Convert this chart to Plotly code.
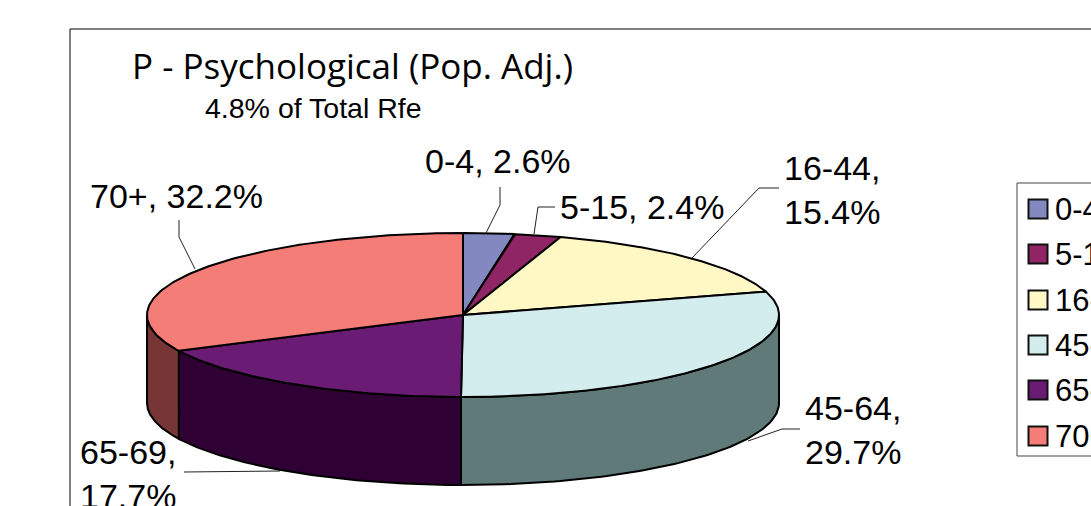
import numpy as np
import plotly.graph_objects as go

categories = ["0-4", "5-15", "16-44", "45-64", "65-69", "70+"]
values = [2.6, 2.4, 15.4, 29.7, 17.7, 32.2]
top_colors = ["#8488C0", "#902565", "#FFF8C4", "#D3ECED", "#6A1B73", "#F47D77"]
side_colors = ["#565A80", "#601843", "#A9A582", "#5F7A79", "#2E0033", "#773535"]
title_text = "P - Psychological (Pop. Adj.)"
subtitle_text = "4.8% of Total Rfe"

# Pie projection, in the pixel-sized axes below
CX, CY, RX, RY, DEPTH = 463, 315, 316, 82, 88

def rim(theta):
    return CX + RX * np.sin(theta), CY - RY * np.cos(theta)

fig = go.Figure()
edges = np.radians(np.concatenate([[0], np.cumsum(values)]) * 3.6)

def poly(x, y, color, width=2):
    fig.add_trace(go.Scatter(x=x, y=y, mode="lines", fill="toself", fillcolor=color,
                             line=dict(color="#000000", width=width), hoverinfo="skip",
                             showlegend=False))

# Side walls: only the front half of the rim shows
for i in range(len(values)):
    a = max(edges[i], np.pi / 2)
    b = min(edges[i + 1], 3 * np.pi / 2)
    if a >= b:
        continue
    t = np.linspace(a, b, 80)
    x, y = rim(t)
    poly(np.concatenate([x, x[::-1], x[:1]]),
         np.concatenate([y, y[::-1] + DEPTH, y[:1]]), side_colors[i])

# Top faces
for i in range(len(values)):
    t = np.linspace(edges[i], edges[i + 1], 120)
    x, y = rim(t)
    poly(np.concatenate([[CX], x, [CX]]), np.concatenate([[CY], y, [CY]]), top_colors[i])

# Leader lines
leaders = [
    ([500, 500, 486], [187, 205, 233]),
    ([555, 538, 534], [207, 207, 234]),
    ([779, 759, 692], [188, 188, 258]),
    ([179, 179, 195], [220, 237, 269]),
    ([800, 782, 748], [429, 429, 441]),
    ([184, 280], [472, 471]),
]
for lx, ly in leaders:
    fig.add_trace(go.Scatter(x=lx, y=ly, mode="lines", line=dict(color="#222222", width=1),
                             hoverinfo="skip", showlegend=False))

# Legend swatches
legend_y = [209, 254, 300, 345, 390, 436]
fig.add_trace(go.Scatter(x=[1038] * 6, y=legend_y, mode="markers",
                         marker=dict(symbol="square", size=19, color=top_colors,
                                     line=dict(color="#111111", width=2)),
                         hoverinfo="skip", showlegend=False))

FONT = "Liberation Sans, Arial, sans-serif"
def label(x, y, text, size=34, family=FONT):
    fig.add_annotation(x=x, y=y, text=text, showarrow=False, xanchor="left", yanchor="middle",
                       align="left", font=dict(size=size, color="#000000", family=family))

label(130, 65, title_text, 35, "Open Sans, sans-serif")
label(203, 108, subtitle_text, 28.5)
for (px, py), cat, val in zip([(423, 161), (558, 207), (88, 196)],
                              ["0-4", "5-15", "70+"], [2.6, 2.4, 32.2]):
    label(px, py, f"{cat}, {val}%")
for px, py, cat, val in [(782, 168, "16-44", 15.4), (803, 408, "45-64", 29.7), (78, 452, "65-69", 17.7)]:
    label(px, py, f"{cat},")
    label(px, py + 44, f"{val}%")
for y, cat in zip(legend_y, categories):
    label(1053, y, cat, 31)

shapes = [
    dict(type="line", x0=70, x1=70, y0=29, y1=506, line=dict(color="#000000", width=1)),
    dict(type="line", x0=70, x1=1091, y0=29, y1=29, line=dict(color="#000000", width=1)),
    dict(type="rect", x0=1017, x1=1200, y0=183, y1=456, line=dict(color="#444444", width=1)),
]
fig.update_layout(
    width=1091, height=506, margin=dict(l=0, r=0, t=0, b=0),
    paper_bgcolor="#ffffff", plot_bgcolor="#ffffff", shapes=shapes, showlegend=False,
    xaxis=dict(range=[0, 1091], visible=False, fixedrange=True),
    yaxis=dict(range=[506, 0], visible=False, fixedrange=True),
)
fig.write_html("out.html", config={"displayModeBar": False},
               post_script="document.body.style.margin='0';")
